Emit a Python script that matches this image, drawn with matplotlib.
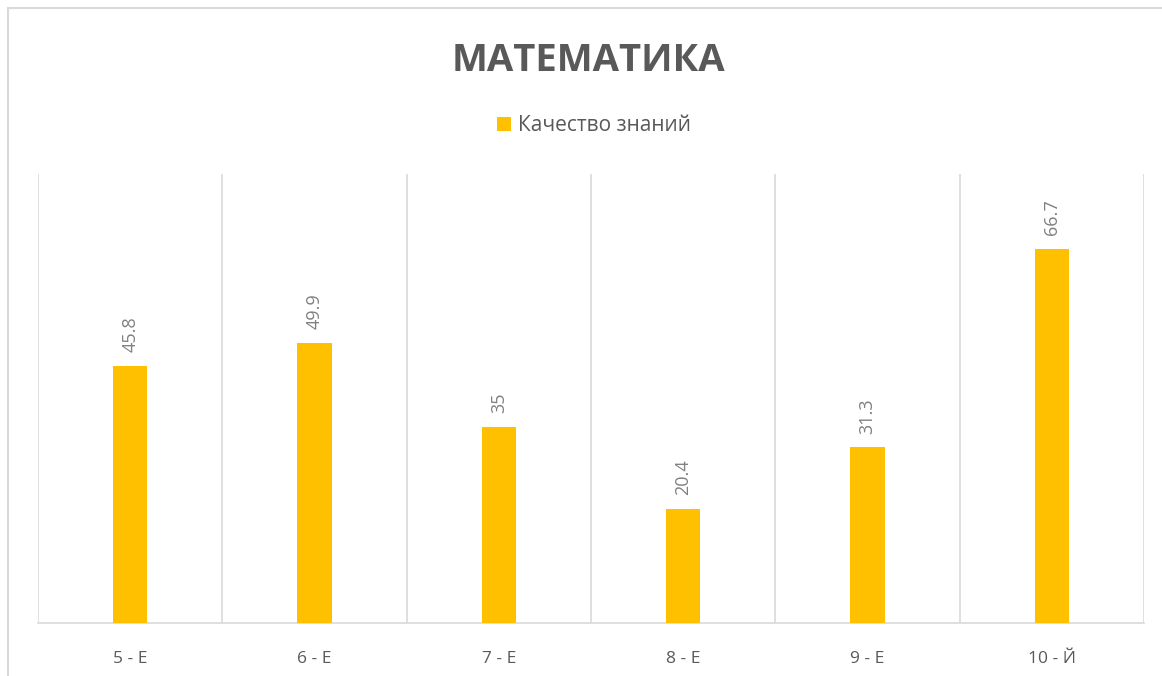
import matplotlib.pyplot as plt
from matplotlib.patches import Rectangle

classes = ["5 - Е", "6 - Е", "7 - Е", "8 - Е", "9 - Е", "10 - Й"]
quality = [45.8, 49.9, 35, 20.4, 31.3, 66.7]
labels = ["45.8", "49.9", "35", "20.4", "31.3", "66.7"]

plt.rcParams["font.family"] = ["Open Sans", "DejaVu Sans"]

fig = plt.figure(figsize=(11.62, 6.76), dpi=100)
ax = fig.add_axes([38 / 1162, 53 / 676, 1106 / 1162, 449 / 676])

x = list(range(len(classes)))
bars = ax.bar(x, quality, width=0.185, color="#FFC000", label="Качество знаний", zorder=3)

# подписи значений
for xi, v, t in zip(x, quality, labels):
    ax.text(xi, v + 2.4, t, rotation=90, ha="center", va="bottom",
            fontsize=13, color="#808080")

ax.set_xlim(-0.5, len(classes) - 0.5)
ax.set_ylim(0, 80)
ax.set_xticks(x)
ax.set_xticklabels(classes, fontsize=12.5, color="#595959")
ax.tick_params(axis="x", length=0, pad=20)
ax.set_yticks([])

# вертикальная сетка между категориями
for b in [i - 0.5 for i in range(len(classes) + 1)]:
    ax.axvline(b, color="#D9D9D9", linewidth=1.2, zorder=1)

for s in ["top", "left", "right"]:
    ax.spines[s].set_visible(False)
ax.spines["bottom"].set_color("#D9D9D9")
ax.spines["bottom"].set_linewidth(1.2)

fig.text(0.506, 0.91, "МАТЕМАТИКА", ha="center", va="center", fontsize=27.5,
         fontweight="bold", color="#595959")
fig.legend(handles=[bars], loc="center", bbox_to_anchor=(0.511, 0.814), frameon=False,
           fontsize=15, labelcolor="#595959", handlelength=0.7, handleheight=0.7,
           handletextpad=0.3)

fig.patches.append(Rectangle((8 / 1162, -0.1), 1.2, 1 - 8 / 676 + 0.1,
                             transform=fig.transFigure, fill=False,
                             edgecolor="#D9D9D9", linewidth=1.5))

fig.savefig("out.png", dpi=100)
